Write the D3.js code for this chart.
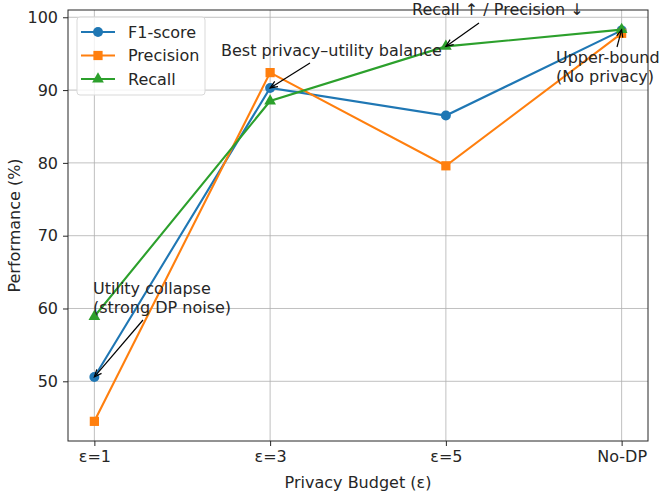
<!DOCTYPE html>
<html>
<head>
<meta charset="utf-8">
<script src="https://cdn.jsdelivr.net/npm/d3@7"></script>
<style>
  body { margin: 0; background: #fff; }
  text { font-family: "DejaVu Sans", sans-serif; fill: #262626; }
</style>
</head>
<body>
<div id="chart"></div>
<script>
const categories = ['ε=1', 'ε=3', 'ε=5', 'No-DP']
const f1 = [50.6, 90.3, 86.5, 98.2]
const precision = [44.5, 92.4, 79.6, 97.8]
const recall = [58.9, 88.5, 96.0, 98.3]
const yTicks = [50, 60, 70, 80, 90, 100]

const series = [
  {name: 'F1-score', values: f1, color: '#1f77b4', marker: 'circle'},
  {name: 'Precision', values: precision, color: '#ff7f0e', marker: 'square'},
  {name: 'Recall', values: recall, color: '#2ca02c', marker: 'triangle'}
]

const notes = [
  {lines: ['Best privacy–utility balance'], at: [1, f1[1]], tx: 221, ty: 56, from: [310, 63]},
  {lines: ['Recall ↑ / Precision ↓'], at: [2, recall[2]], tx: 412, ty: 15, from: [479, 23]},
  {lines: ['Upper-bound', '(No privacy)'], at: [3, recall[3]], tx: 556, ty: 63, from: [617, 47]},
  {lines: ['Utility collapse', '(strong DP noise)'], at: [0, f1[0]], tx: 93, ty: 294, from: [143, 320]}
]

const width = 659
const height = 494
const m = {left: 68, right: 11, top: 10, bottom: 53}
const fs = '16px'

const svg = d3.select('#chart').append('svg')
  .attr('width', width)
  .attr('height', height)

const x = d3.scaleLinear().domain([-0.15, 3.15]).range([m.left, width - m.right])
const y = d3.scaleLinear().domain([41.8, 101]).range([height - m.bottom, m.top])

// grid
svg.append('g').selectAll('line').data(d3.range(categories.length)).join('line')
  .attr('x1', d => x(d)).attr('x2', d => x(d))
  .attr('y1', m.top).attr('y2', height - m.bottom)
  .attr('stroke', '#b0b0b0').attr('stroke-width', 0.8)
svg.append('g').selectAll('line').data(yTicks).join('line')
  .attr('x1', m.left).attr('x2', width - m.right)
  .attr('y1', d => y(d)).attr('y2', d => y(d))
  .attr('stroke', '#b0b0b0').attr('stroke-width', 0.8)

// axes
const xAxis = svg.append('g')
  .attr('transform', `translate(0,${height - m.bottom})`)
  .call(d3.axisBottom(x).tickValues(d3.range(categories.length)).tickFormat(i => categories[i]).tickSize(5).tickPadding(5).tickSizeOuter(0))
const yAxis = svg.append('g')
  .attr('transform', `translate(${m.left},0)`)
  .call(d3.axisLeft(y).tickValues(yTicks).tickSize(5).tickPadding(5).tickSizeOuter(0))
for (const ax of [xAxis, yAxis]) {
  ax.select('.domain').remove()
  ax.selectAll('line').attr('stroke', '#262626')
  ax.selectAll('text').style('font-size', fs).style('font-family', '"DejaVu Sans", sans-serif').attr('fill', '#262626')
}

svg.append('rect')
  .attr('x', m.left).attr('y', m.top)
  .attr('width', width - m.left - m.right).attr('height', height - m.top - m.bottom)
  .attr('fill', 'none').attr('stroke', '#262626').attr('stroke-width', 1)

svg.append('text')
  .attr('x', (m.left + width - m.right) / 2).attr('y', 488)
  .attr('text-anchor', 'middle').style('font-size', fs)
  .text('Privacy Budget (ε)')
svg.append('text')
  .attr('transform', `translate(14,${(m.top + height - m.bottom) / 2}) rotate(-90)`)
  .attr('text-anchor', 'middle').attr('dy', '0.35em').style('font-size', fs)
  .text('Performance (%)')

const symbols = {circle: d3.symbolCircle, square: d3.symbolSquare, triangle: d3.symbolTriangle}
const symSize = {circle: 78, square: 85, triangle: 60}

const line = d3.line().x((d, i) => x(i)).y(d => y(d))
for (const s of series) {
  const g = svg.append('g')
  g.append('path').datum(s.values)
    .attr('d', line).attr('fill', 'none')
    .attr('stroke', s.color).attr('stroke-width', 2.1)
  g.selectAll('path.pt').data(s.values).join('path')
    .attr('class', 'pt')
    .attr('transform', (d, i) => `translate(${x(i)},${y(d)})`)
    .attr('d', d3.symbol().type(symbols[s.marker]).size(symSize[s.marker]))
    .attr('fill', s.color)
}

// annotations
for (const n of notes) {
  const tx = x(n.at[0])
  const ty = y(n.at[1])
  const [fx, fy] = n.from
  const ang = Math.atan2(ty - fy, tx - fx)
  const h = 8
  svg.append('line')
    .attr('x1', fx).attr('y1', fy).attr('x2', tx).attr('y2', ty)
    .attr('stroke', '#000').attr('stroke-width', 1.2)
  svg.append('path')
    .attr('d', `M${tx - h * Math.cos(ang - 0.4)},${ty - h * Math.sin(ang - 0.4)} L${tx},${ty} L${tx - h * Math.cos(ang + 0.4)},${ty - h * Math.sin(ang + 0.4)}`)
    .attr('fill', 'none').attr('stroke', '#000').attr('stroke-width', 1.2)
  const t = svg.append('text').attr('x', n.tx).attr('y', n.ty).style('font-size', fs)
  n.lines.forEach((l, i) => t.append('tspan').attr('x', n.tx).attr('dy', i ? 19 : 0).text(l))
}

// legend
const lg = svg.append('g').attr('transform', 'translate(77,17)')
lg.append('rect').attr('width', 128).attr('height', 78).attr('rx', 3)
  .attr('fill', 'rgba(255,255,255,0.8)').attr('stroke', '#d9d9d9')
series.forEach((s, i) => {
  const yy = 15 + i * 23.5
  lg.append('line').attr('x1', 4).attr('x2', 38).attr('y1', yy).attr('y2', yy)
    .attr('stroke', s.color).attr('stroke-width', 2.1)
  lg.append('path').attr('transform', `translate(21,${yy})`)
    .attr('d', d3.symbol().type(symbols[s.marker]).size(symSize[s.marker])).attr('fill', s.color)
  lg.append('text').attr('x', 51).attr('y', yy).attr('dy', '0.35em').style('font-size', fs).text(s.name)
})
</script>
</body>
</html>
